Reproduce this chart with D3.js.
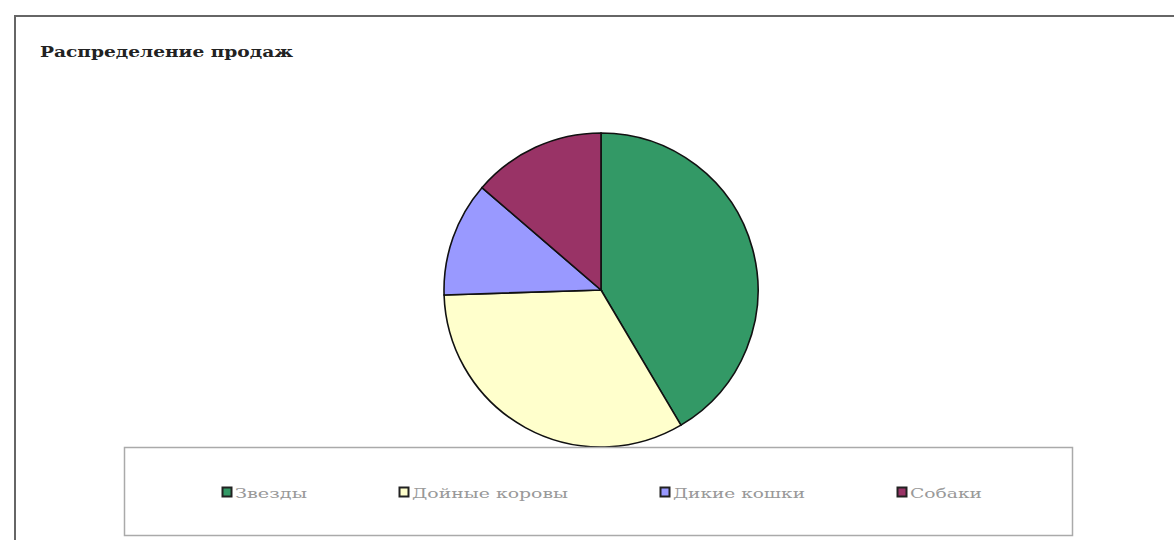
<!DOCTYPE html>
<html>
<head>
<meta charset="utf-8">
<script src="https://cdn.jsdelivr.net/npm/d3@7"></script>
<style>
  body { margin: 0; background: #fff; }
  svg { display: block; }
</style>
</head>
<body>
<svg id="chart" width="1174" height="540"></svg>
<script>
const width = 1174;
const height = 540;
const svg = d3.select("#chart");

// data
const categories = ["Звезды", "Дойные коровы", "Дикие кошки", "Собаки"];
const sales = [41.5, 33.0, 11.8, 13.7];
const sliceColors = ["#339966", "#ffffcc", "#9999ff", "#993366"];
const title = "Распределение продаж";

const colorScale = d3.scaleOrdinal()
    .domain(categories)
    .range(sliceColors);

// outer frame (only left and top edges are visible)
svg.append("path")
    .attr("d", "M15,540 L15,16 L1174,16")
    .attr("fill", "none")
    .attr("stroke", "#666")
    .attr("stroke-width", 2);

// title
svg.append("text")
    .attr("x", 40)
    .attr("y", 57)
    .attr("font-family", "'DejaVu Serif', serif")
    .attr("font-weight", "bold")
    .attr("font-size", 14)
    .attr("fill", "#222")
    .attr("textLength", 253)
    .attr("lengthAdjust", "spacingAndGlyphs")
    .text(title);

// pie
const cx = 601, cy = 290, radius = 157;
const pie = d3.pie().sort(null).value(d => d.value);
const arc = d3.arc().innerRadius(0).outerRadius(radius);
const pieData = pie(categories.map((c, i) => ({ name: c, value: sales[i] })));

svg.append("g")
    .attr("transform", "translate(" + cx + "," + cy + ")")
    .selectAll("path")
    .data(pieData)
    .enter()
    .append("path")
    .attr("d", arc)
    .attr("fill", d => colorScale(d.data.name))
    .attr("stroke", "#111")
    .attr("stroke-width", 1.6);

// legend box
svg.append("rect")
    .attr("x", 124.5)
    .attr("y", 447.5)
    .attr("width", 948)
    .attr("height", 88)
    .attr("fill", "#fff")
    .attr("stroke", "#aaa")
    .attr("stroke-width", 1.5);

const charWidth = 12.0;
const itemGap = 92;
const boxSize = 9;
let legendX = 222;
const legendItems = categories.map(c => {
    const item = { name: c, x: legendX, w: c.length * charWidth };
    legendX += boxSize + 4 + item.w + itemGap;
    return item;
});

const legend = svg.append("g").selectAll("g")
    .data(legendItems)
    .enter()
    .append("g")
    .attr("transform", d => "translate(" + d.x + ",0)");

legend.append("rect")
    .attr("x", 0.5)
    .attr("y", 487.5)
    .attr("width", boxSize)
    .attr("height", boxSize)
    .attr("fill", d => colorScale(d.name))
    .attr("stroke", "#222")
    .attr("stroke-width", 2);

legend.append("text")
    .attr("x", boxSize + 4)
    .attr("y", 498)
    .attr("font-family", "'DejaVu Serif', serif")
    .attr("font-size", 13)
    .attr("fill", "#999")
    .attr("textLength", d => d.w)
    .attr("lengthAdjust", "spacingAndGlyphs")
    .text(d => d.name);
</script>
</body>
</html>
